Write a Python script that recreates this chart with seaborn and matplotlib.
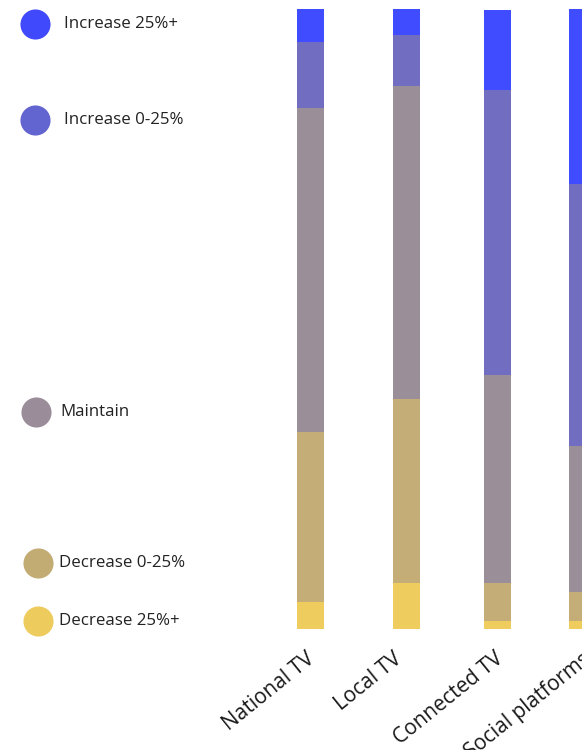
import matplotlib
matplotlib.use("Agg")
import matplotlib.pyplot as plt
import seaborn as sns
import pandas as pd
import numpy as np

# ---- data ----
categories = ["National TV", "Local TV", "Connected TV", "Social platforms"]
series_names = ["Increase 25%+", "Increase 0-25%", "Maintain", "Decrease 0-25%", "Decrease 25%+"]
increase_25_plus = [5.5, 4.2, 12.9, 28.2]
increase_0_25 = [10.6, 8.2, 46.1, 42.3]
maintain = [52.3, 50.5, 33.5, 23.5]
decrease_0_25 = [27.3, 29.7, 6.1, 4.7]
decrease_25_plus = [4.4, 7.4, 1.3, 1.3]

# ---- layout / style ----
bar_colors = ["#404CFF", "#716EC2", "#9A8E98", "#C4AD77", "#EECC5E"]
legend_colors = ["#4049FB", "#6264CF", "#9A8D99", "#C3AB74", "#EDCB5D"]
x_pos = [0, 96, 187, 272]          # bar centres (px units)
label_shift = [-5, -13, -3, 0]     # tick label anchor offsets (px)
legend_y = [24, 120, 412, 563, 621]  # px from top
legend_text_x = [64, 64, 60, 59, 59]
legend_circ_x = [35, 35, 36, 38, 38]

sns.set_theme(style="white")
plt.rcParams["font.family"] = ["Open Sans", "DejaVu Sans"]

W, H = 582, 750
fig = plt.figure(figsize=(W / 100, H / 100), dpi=100)
top_px, bot_px = 9, 629
ax = fig.add_axes([0, (H - bot_px) / H, 1, (bot_px - top_px) / H])

series = [increase_25_plus, increase_0_25, maintain, decrease_0_25, decrease_25_plus]
# cumulative stacking: draw total first, then progressively smaller stacks
for i in range(len(series)):
    heights = np.sum(np.array(series[i:]), axis=0)
    d = pd.DataFrame({"x": x_pos, "h": heights})
    sns.barplot(data=d, x="x", y="h", native_scale=True, color=bar_colors[i],
                saturation=1, width=27 / 85, ax=ax, linewidth=0, errorbar=None)

ax.set_xlim(-310.5, 271.5)
ax.set_ylim(0, 100)
ax.set_xlabel("")
ax.set_ylabel("")
ax.set_yticks([])
ax.set_xticks([p + s for p, s in zip(x_pos, label_shift)])
ax.set_xticklabels(categories, rotation=39, ha="right", va="top", rotation_mode="anchor",
                   fontsize=15, color="#1a1a1a")
ax.tick_params(axis="x", length=0, pad=14)
for s in ax.spines.values():
    s.set_visible(False)
for lbl in ax.get_xticklabels():
    lbl.set_clip_on(False)

# ---- legend ----
lax = fig.add_axes([0, 0, 1, 1], facecolor="none")
lax.set_xlim(0, W)
lax.set_ylim(H, 0)
lax.axis("off")
for name, col, y, tx, cx in zip(series_names, legend_colors, legend_y, legend_text_x, legend_circ_x):
    lax.scatter([cx], [y], s=470, color=col, linewidths=0)
    lax.text(tx, y, name, va="center", ha="left", fontsize=12.2, color="#222222")

fig.savefig("out.png", dpi=100)
